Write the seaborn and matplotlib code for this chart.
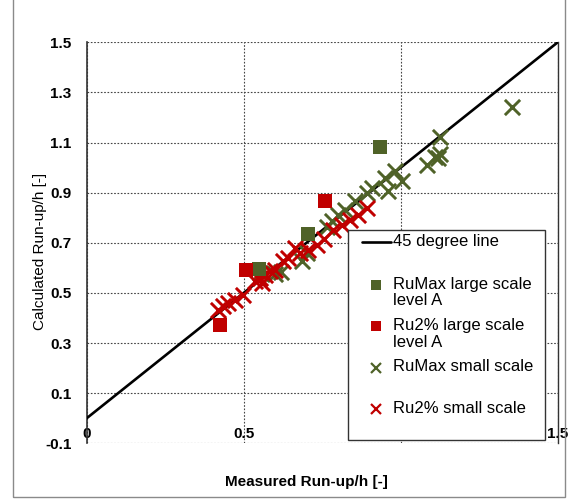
import matplotlib
matplotlib.use("Agg")
import matplotlib.pyplot as plt
from matplotlib.patches import Rectangle
from matplotlib.lines import Line2D
import seaborn as sns

# ---------------- data ----------------
line_x = [0.0, 1.5]
line_y = [0.0, 1.5]

rumax_large_x = [0.548, 0.706, 0.934]
rumax_large_y = [0.595, 0.735, 1.082]

ru2_large_x = [0.425, 0.508, 0.760]
ru2_large_y = [0.372, 0.593, 0.865]

rumax_small_x = [0.552, 0.600, 0.620, 0.685, 0.700, 0.764, 0.780, 0.801, 0.823, 0.854,
                 0.892, 0.908, 0.950, 0.961, 0.982, 1.003, 1.083, 1.109, 1.120, 1.125,
                 1.125, 1.355]
rumax_small_y = [0.580, 0.575, 0.585, 0.628, 0.660, 0.765, 0.785, 0.812, 0.832, 0.865,
                 0.898, 0.918, 0.958, 0.905, 0.985, 0.945, 1.011, 1.042, 1.040, 1.054,
                 1.124, 1.241]

ru2_small_x = [0.419, 0.435, 0.451, 0.472, 0.499, 0.536, 0.552, 0.557, 0.568, 0.584,
               0.600, 0.626, 0.642, 0.663, 0.679, 0.706, 0.732, 0.757, 0.785, 0.812,
               0.839, 0.865, 0.892]
ru2_small_y = [0.433, 0.447, 0.460, 0.473, 0.493, 0.546, 0.560, 0.540, 0.573, 0.586,
               0.593, 0.626, 0.639, 0.679, 0.659, 0.672, 0.692, 0.715, 0.752, 0.772,
               0.792, 0.812, 0.839]

x_ticks = [0, 0.5, 1.0, 1.5]
x_tick_labels = ["0", "0.5", "1", "1.5"]
y_ticks = [-0.1, 0.1, 0.3, 0.5, 0.7, 0.9, 1.1, 1.3, 1.5]
y_tick_labels = ["-0.1", "0.1", "0.3", "0.5", "0.7", "0.9", "1.1", "1.3", "1.5"]

legend_labels = ["45 degree line", "RuMax large scale\nlevel A", "Ru2% large scale\nlevel A",
                 "RuMax small scale", "Ru2% small scale"]
x_label = "Measured Run-up/h [-]"
y_label = "Calculated Run-up/h [-]"

GREEN = "#4F6228"
RED = "#C00000"

# ---------------- style ----------------
sns.set_style("white")
plt.rcParams["font.family"] = ["Liberation Sans", "DejaVu Sans"]
plt.rcParams["text.color"] = "black"
plt.rcParams["xtick.color"] = "black"
plt.rcParams["ytick.color"] = "black"

W, H = 568, 499
fig = plt.figure(figsize=(W / 100, H / 100), dpi=100)
L, R, T, B = 86.7, 557.7, 42.3, 443.3
ax = fig.add_axes([L / W, 1 - B / H, (R - L) / W, (B - T) / H])

# 45 degree line
sns.lineplot(x=line_x, y=line_y, ax=ax, color="black", linewidth=1.9, zorder=3)

# data series
sns.scatterplot(x=rumax_small_x, y=rumax_small_y, ax=ax, marker="x", s=120,
                color=GREEN, linewidth=2.1, zorder=4)
sns.scatterplot(x=ru2_small_x, y=ru2_small_y, ax=ax, marker="x", s=120,
                color=RED, linewidth=2.1, zorder=5)
sns.scatterplot(x=rumax_large_x, y=rumax_large_y, ax=ax, marker="s", s=100,
                color=GREEN, edgecolor=GREEN, linewidth=0, zorder=6)
sns.scatterplot(x=ru2_large_x, y=ru2_large_y, ax=ax, marker="s", s=100,
                color=RED, edgecolor=RED, linewidth=0, zorder=6)

ax.set_xlim(0, 1.5)
ax.set_ylim(-0.1, 1.5)
ax.set_xticks(x_ticks)
ax.set_xticklabels(x_tick_labels, fontsize=11, fontweight="bold", color="black")
ax.set_yticks(y_ticks)
ax.set_yticklabels(y_tick_labels, fontsize=11, fontweight="bold", color="black")
ax.tick_params(axis="y", length=0, pad=11)
ax.tick_params(axis="x", direction="in", length=3, pad=-11.5, color="black")
ax.set_axisbelow(True)
ax.grid(True, color="#444444", linestyle=(0, (1.5, 1.5)), linewidth=0.8)
ax.set_xlabel("")
ax.set_ylabel("")

for s in ["top", "bottom"]:
    ax.spines[s].set_visible(False)
ax.spines["left"].set_color("#333333")
ax.spines["left"].set_linewidth(1.2)
ax.spines["right"].set_color("#333333")
ax.spines["right"].set_linewidth(1.0)

# axis labels
fig.text(306.7 / W, 1 - 481.7 / H, x_label, fontsize=11, fontweight="bold",
         ha="center", va="center", color="black")
fig.text(40 / W, 1 - 251.7 / H, y_label, fontsize=11, rotation=90,
         ha="center", va="center", color="black")

# ---------------- legend (drawn as in the reference) ----------------
def axx(px):
    return (px - L) / (R - L)


def axy(py):
    return (B - py) / (B - T)


tr = ax.transAxes
ax.add_patch(Rectangle((axx(348.3), axy(440)), axx(545) - axx(348.3), axy(230) - axy(440),
                       transform=tr, facecolor="white", edgecolor="#333333",
                       linewidth=1.0, zorder=10, clip_on=False))
ax.add_line(Line2D([axx(361.7), axx(391)], [axy(241.7), axy(241.7)], transform=tr,
                   color="black", linewidth=1.9, zorder=11))
tx = axx(392.7)
mx = axx(375.7)
ax.text(tx, axy(241.7), legend_labels[0], transform=tr, fontsize=12, va="center",
        ha="left", zorder=11)
ax.add_line(Line2D([mx], [axy(285)], transform=tr, marker="s", markersize=7.5,
                   color=GREEN, markeredgewidth=0, linestyle="none", zorder=11))
ax.text(tx, axy(292.5), legend_labels[1], transform=tr, fontsize=12, va="center",
        ha="left", linespacing=1.1, zorder=11)
ax.add_line(Line2D([mx], [axy(326)], transform=tr, marker="s", markersize=7.5,
                   color=RED, markeredgewidth=0, linestyle="none", zorder=11))
ax.text(tx, axy(334), legend_labels[2], transform=tr, fontsize=12, va="center",
        ha="left", linespacing=1.1, zorder=11)
ax.add_line(Line2D([mx], [axy(368)], transform=tr, marker="x", markersize=7,
                   color=GREEN, markeredgewidth=1.6, linestyle="none", zorder=11))
ax.text(tx, axy(366.7), legend_labels[3], transform=tr, fontsize=12, va="center",
        ha="left", zorder=11)
ax.add_line(Line2D([mx], [axy(409)], transform=tr, marker="x", markersize=7,
                   color=RED, markeredgewidth=1.6, linestyle="none", zorder=11))
ax.text(tx, axy(408.3), legend_labels[4], transform=tr, fontsize=12, va="center",
        ha="left", zorder=11)

# outer chart border
fig.patches.append(Rectangle((12.7 / W, 2 / H), (565 - 12.7) / W, 1.0, transform=fig.transFigure,
                             facecolor="none", edgecolor="#8a8a8a", linewidth=1.0))

fig.savefig("out.png", dpi=100)
